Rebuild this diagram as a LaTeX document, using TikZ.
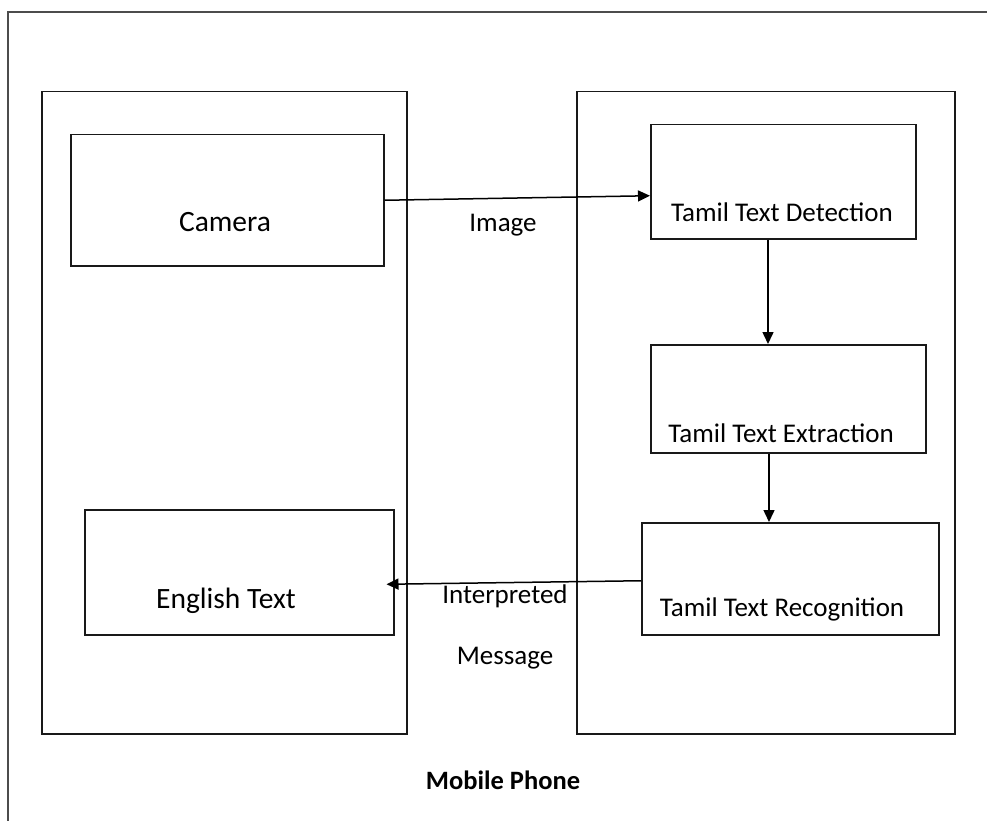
\documentclass[tikz,border=0pt]{standalone}
\usepackage{fontspec}
\setmainfont{Carlito}
\usetikzlibrary{arrows.meta,calc}
\begin{document}
\begin{tikzpicture}[x=1pt,y=-1pt,
  box/.style={draw=black!90,line width=1.5pt,anchor=north west,inner sep=0pt},
  arr/.style={draw=black,line width=1.5pt,-{Triangle[length=12pt,width=11pt]}},
  big/.style={font=\fontsize{29.5}{34}\selectfont,inner sep=0pt},
  med/.style={font=\fontsize{27}{32}\selectfont,inner sep=0pt}]
\useasboundingbox (0,0) rectangle (987,821);
\draw[draw=black!70,line width=1.5pt] (8,821) -- (8,12) -- (987,12);
% panels
\node[box,minimum width=365pt,minimum height=642pt] (left) at (41,91) {};
\node[box,minimum width=378pt,minimum height=642pt] (right) at (576,91) {};
% boxes
\node[box,minimum width=313pt,minimum height=131pt] (cam) at (70,134) {};
\node[box,minimum width=265pt,minimum height=114pt] (det) at (650,124) {};
\node[box,minimum width=275pt,minimum height=108pt] (ext) at (650,344) {};
\node[box,minimum width=297pt,minimum height=112pt] (rec) at (641,522) {};
\node[box,minimum width=309pt,minimum height=125pt] (eng) at (84,509) {};
% texts
\node[big] (tcam) at (225,222) {Camera};
\node[med] (tdet) at (782,212) {Tamil Text Detection};
\node[med] (text) at (781,433) {Tamil Text Extraction};
\node[med] (trec) at (782,609) {Tamil Text Recognition};
\node[big] (teng) at (226,601) {English Text};
% connectors
\coordinate (xa) at (768,0);
\coordinate (xb) at (769,0);
\draw[arr] (cam.east) -- ($(det.west)+(0,14)$);
\draw[arr] (det.south -| xa) -- (ext.north -| xa);
\draw[arr] (ext.south -| xb) -- (rec.north -| xb);
\draw[arr] ($(rec.west)+(0,2)$) -- ($(eng.east)+(-8,12)$);
% labels
\node[med] (limg) at (503,225) {Image};
\node[med] (lint) at (505,596) {Interpreted};
\node[med] (lmsg) at (505,658) {Message};
\node[med,font=\fontsize{26.5}{32}\selectfont\bfseries] (lphone) at (503,780) {Mobile Phone};
\end{tikzpicture}
\end{document}
